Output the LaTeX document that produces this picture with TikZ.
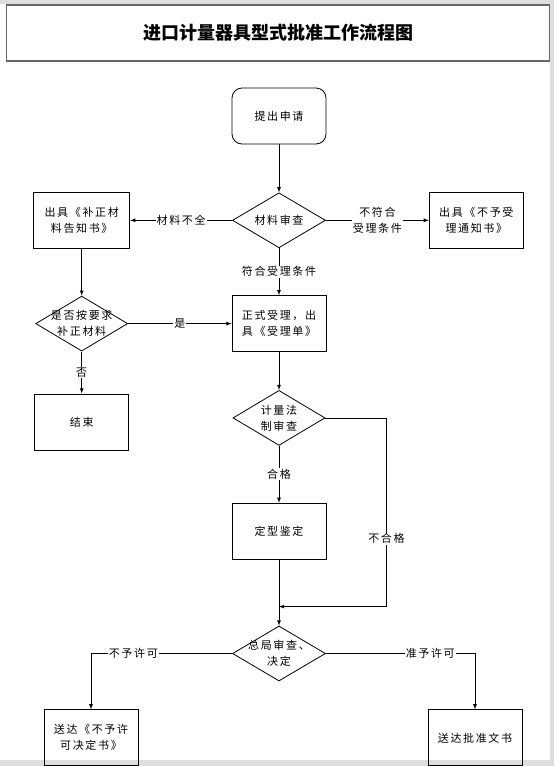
\documentclass[tikz,border=0pt]{standalone}
\usepackage{fontspec}
\setmainfont{Noto Sans CJK SC}
\newfontfamily\cjk{Noto Sans CJK SC}[LetterSpace=15]
\usetikzlibrary{positioning,shapes.geometric,arrows.meta}

\begin{document}
\begin{tikzpicture}[
  x=1pt, y=-1pt,
  font=\cjk\fontsize{11}{16}\selectfont,
  line width=0.8pt,
  box/.style={draw, rectangle, align=center, minimum width=94pt,
    minimum height=56pt, inner sep=0pt},
  start/.style={box, rounded corners=10pt},
  test/.style={draw, diamond, aspect=1.7, minimum width=93pt,
    minimum height=55pt, inner sep=0pt, label={[align=center]center:#1}},
  tag/.style={fill=white, inner sep=1pt, align=center},
  flow/.style={-latex},
  ]
  % page and grey margins
  \useasboundingbox (0,0) rectangle (554,766);
  \fill [white] (0,0) rectangle (554,766);
  \fill [black!13] (0,0) rectangle (554,4);
  \fill [black!13] (550,0) rectangle (554,766);
  \fill [black!13] (0,760) rectangle (554,766);

  \node [draw=black!60, line width=1.6pt, minimum width=543pt,
    minimum height=56pt, font=\normalfont\bfseries\fontsize{18}{20}\selectfont]
    (title) at (278,33) {进口计量器具型式批准工作流程图};

  % main column
  \node [start] (apply) at (279,116) {提出申请};
  \node [test={材料审查}, below=48pt of apply] (check) {};
  \node [box, minimum width=96pt, left=102pt of check] (note) {出具《补正材\\料告知书》};
  \node [box, right=103pt of check] (refuse) {出具《不予受\\理通知书》};
  \node [box, below=47pt of check] (accept) {正式受理，出\\具《受理单》};
  \node [test={{是否按要求\\补正材料}}, minimum width=92pt, below=47pt of note] (resubmit) {};
  \node [box, below=42pt of resubmit] (end) {结束};
  \node [test={{计量法\\制审查}}, minimum width=92pt, below=38pt of accept] (legal) {};
  \node [box, below=57pt of legal] (typetest) {定型鉴定};
  \coordinate [below=47pt of typetest] (join);
  \node [test={{总局审查、\\决定}}, below=66pt of typetest] (decide) {};
  \node [box, below=28pt of decide, xshift=-188pt] (deny) {送达《不予许\\可决定书》};
  \node [box, below=28pt of decide, xshift=196pt] (grant) {送达批准文书};

  % connectors
  \draw [flow] (apply) -- (check);
  \draw [flow] (check) -- (note) node [midway, tag] {材料不全};
  \draw [flow] (check) -- (refuse) node [midway, tag] {不符合\\受理条件};
  \draw [flow] (check) -- (accept) node [midway, tag] {符合受理条件};
  \draw [flow] (note) -- (resubmit);
  \draw [flow] (resubmit) -- (accept) node [midway, tag] {是};
  \draw [flow] (resubmit) -- (end) node [midway, tag] {否};
  \draw [flow] (accept) -- (legal);
  \draw [flow] (legal) -- (typetest) node [midway, tag] {合格};
  \draw [flow] (legal.east) -- ++(61,0) |- (join) node [pos=0.32, tag] {不合格};
  \draw [flow] (typetest) -- (decide);
  \draw [flow] (decide.west) -| (deny.north) node [pos=0.35, tag] {不予许可};
  \draw [flow] (decide.east) -| (grant.north) node [pos=0.35, tag] {准予许可};
\end{tikzpicture}
\end{document}
